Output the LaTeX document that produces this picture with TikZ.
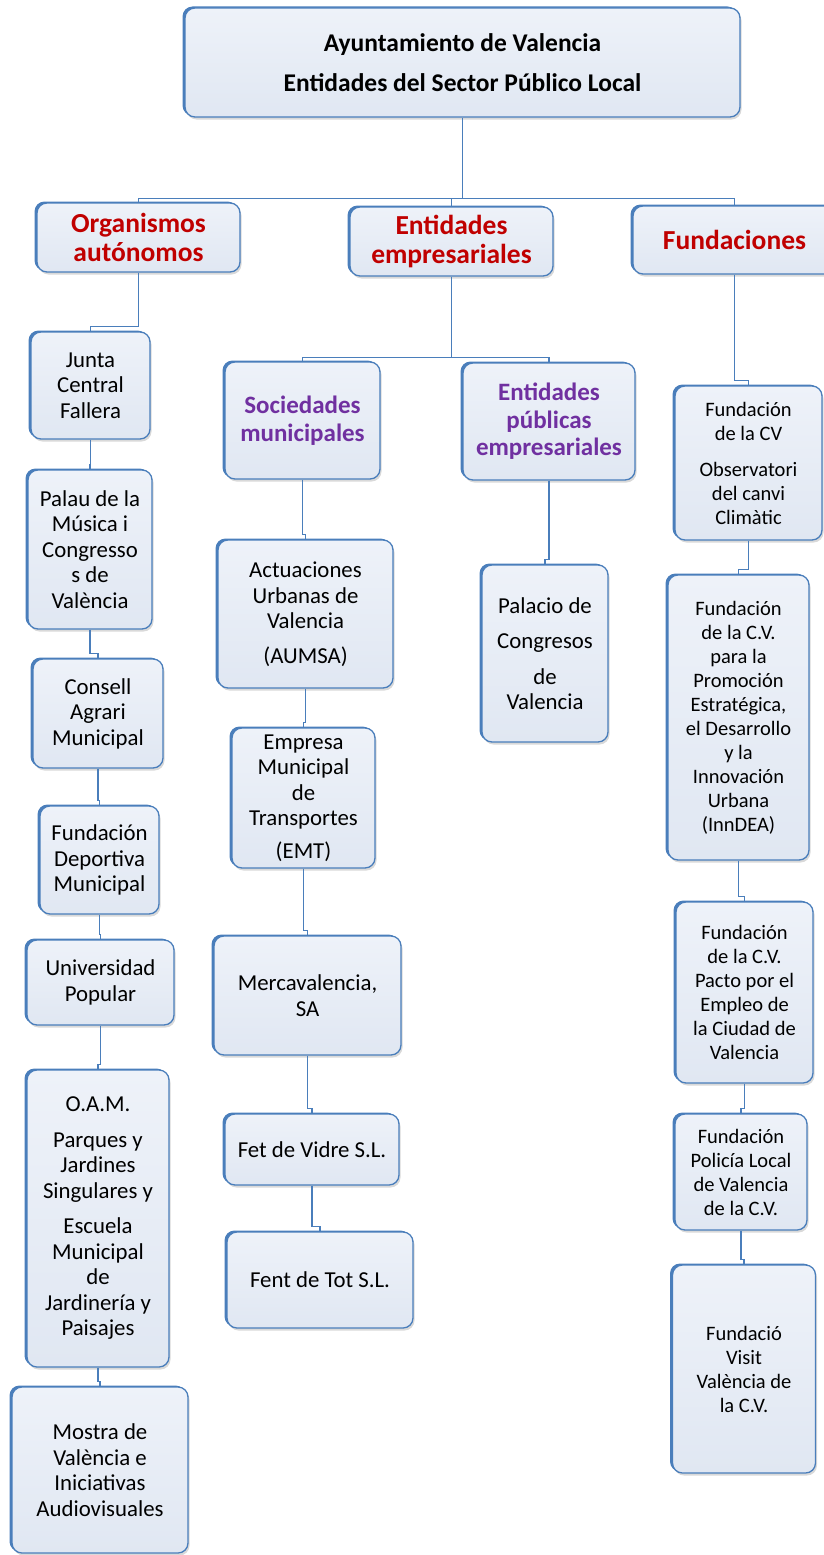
\documentclass[tikz,border=0pt]{standalone}
\usepackage{fontspec}
\setmainfont{Carlito}
\usepackage{tikz}
\usetikzlibrary{calc,shadows}
\definecolor{boxblue}{RGB}{74,126,187}
\definecolor{boxtop}{RGB}{238,242,249}
\definecolor{boxbot}{RGB}{224,231,242}
\definecolor{headred}{RGB}{192,0,0}
\definecolor{headpurple}{RGB}{112,48,160}
\def\bodyfont{\fontsize{22.8}{25.5}\selectfont}
\def\smallbody{\fontsize{20.5}{24}\selectfont}
\tikzset{
	orgbox/.style={draw=boxblue, line width=1.3pt, rounded corners=10pt, top color=boxtop, bottom color=boxbot, align=center, inner sep=0pt,
		drop shadow={shadow xshift=1.5pt, shadow yshift=-2.5pt, opacity=.3},
		general shadow={shadow xshift=-2.5pt, shadow yshift=1.5pt, fill=boxblue}},
	sz/.style 2 args={minimum width=#1pt, minimum height=#2pt},
	titlebox/.style={font=\bfseries\fontsize{25.5}{31}\selectfont},
	redhead/.style={font=\bfseries\fontsize{27.5}{29}\selectfont, text=headred},
	purphead/.style={font=\bfseries\fontsize{25}{27.5}\selectfont, text=headpurple},
	body/.style={font=\bodyfont},
	rbody/.style={font=\smallbody},
	conn/.style={draw=boxblue, line width=1.2pt},
	elbow/.style={to path={|- ([yshift=5pt]\tikztotarget) -- (\tikztotarget)}}
}

\begin{document}
\begin{tikzpicture}[x=1pt, y=-1pt]
			%%%%% START %%%%%
			\useasboundingbox (0,0) rectangle (823,1555);
			
			\node[orgbox, titlebox, sz={555}{109}] (top) at (462.5,62.5) {Ayuntamiento de Valencia\\[9pt]Entidades del Sector Público Local};
			
			\node[orgbox, redhead, sz={203}{69}] (orga) at (138.5,237.5) {Organismos\\autónomos};
			\node[orgbox, redhead, sz={203}{69}] (empr) at (451.5,241.5) {Entidades\\empresariales};
			\node[orgbox, redhead, sz={203}{68}] (fund) at (734.5,240) {Fundaciones};
			
			% organismos autonomos
			\node[orgbox, body, sz={119}{107}] (junta) at (90.5,385.5) {Junta\\Central\\Fallera};
			\node[orgbox, body, sz={124}{159}] (palau) at (90,549.5) {Palau de la\\Música i\\Congresso\\s de\\València};
			\node[orgbox, body, sz={130}{109}] (consell) at (98,713.5) {Consell\\Agrari\\Municipal};
			\node[orgbox, body, sz={119}{108}] (fdm) at (99.5,860) {Fundación\\Deportiva\\Municipal};
			\node[orgbox, body, sz={147}{85}] (univ) at (100.5,982.5) {Universidad\\Popular};
			\node[orgbox, body, sz={142}{297}] (oam) at (98,1218.5) {O.A.M.\\[10pt]Parques y\\Jardines\\Singulares y\\[10pt]Escuela\\Municipal\\de\\Jardinería y\\Paisajes};
			\node[orgbox, body, sz={176}{166}] (mostra) at (100,1470) {Mostra de\\València e\\Iniciativas\\Audiovisuales};
			
			% entidades empresariales
			\node[orgbox, purphead, sz={155}{117}] (soc) at (302.5,420.5) {Sociedades\\municipales};
			\node[orgbox, purphead, sz={172}{117}] (epe) at (549,421.5) {Entidades\\públicas\\empresariales};
			\node[orgbox, body, sz={175}{148}] (aumsa) at (305.5,614) {Actuaciones\\Urbanas de\\Valencia\\[9pt](AUMSA)};
			\node[orgbox, body, sz={143}{140}] (emt) at (303.5,798) {Empresa\\Municipal\\de\\Transportes\\[7pt](EMT)};
			\node[orgbox, body, sz={187}{119}] (merca) at (307.5,995.5) {Mercavalencia,\\SA};
			\node[orgbox, body, sz={174}{71}] (fet) at (312,1149.5) {Fet de Vidre S.L.};
			\node[orgbox, body, sz={186}{96}] (fent) at (320,1280) {Fent de Tot S.L.};
			\node[orgbox, body, sz={126}{177}] (palacio) at (545,653.5) {Palacio de\\[10pt]Congresos\\[10pt]de\\Valencia};
			
			% fundaciones
			\node[orgbox, rbody, sz={147}{154}] (cv1) at (748.5,463) {Fundación\\de la CV\\[12pt]Observatori\\del canvi\\Climàtic};
			\node[orgbox, rbody, sz={141}{285}] (inndea) at (738.5,717.5) {Fundación\\de la C.V.\\para la\\Promoción\\Estratégica,\\el Desarrollo\\y la\\Innovación\\Urbana\\(InnDEA)};
			\node[orgbox, rbody, sz={137}{181}] (pacto) at (744.5,992.5) {Fundación\\de la C.V.\\Pacto por el\\Empleo de\\la Ciudad de\\Valencia};
			\node[orgbox, rbody, sz={132}{116}] (policia) at (741,1172) {Fundación\\Policía Local\\de Valencia\\de la C.V.};
			\node[orgbox, rbody, sz={143}{208}] (visit) at (744,1369) {Fundació\\Visit\\València de\\la C.V.};
			
			% connectors
			\draw[conn] (top.south) -- ++(0,81) coordinate (tbar);
			\draw[conn] (orga.north) |- (tbar) -| (fund.north);
			\draw[conn] (empr.north) -- (empr.north |- tbar);
			
			\draw[conn] (orga.south) to[elbow] (junta.north);
			\draw[conn] (junta.south) to[elbow] (palau.north);
			\draw[conn] (palau.south) to[elbow] (consell.north);
			\draw[conn] (consell.south) to[elbow] (fdm.north);
			\draw[conn] (fdm.south) to[elbow] (univ.north);
			\draw[conn] (univ.south) to[elbow] (oam.north);
			\draw[conn] (oam.south) to[elbow] (mostra.north);
			
			\draw[conn] (empr.south) -- ++(0,81) coordinate (ebar);
			\draw[conn] (soc.north) |- (ebar) -| (epe.north);
			\draw[conn] (soc.south) to[elbow] (aumsa.north);
			\draw[conn] (aumsa.south) to[elbow] (emt.north);
			\draw[conn] (emt.south) to[elbow] (merca.north);
			\draw[conn] (merca.south) to[elbow] (fet.north);
			\draw[conn] (fet.south) to[elbow] (fent.north);
			\draw[conn] (epe.south) to[elbow] (palacio.north);
			
			\draw[conn] (fund.south) to[elbow] (cv1.north);
			\draw[conn] (cv1.south) to[elbow] (inndea.north);
			\draw[conn] (inndea.south) to[elbow] (pacto.north);
			\draw[conn] (pacto.south) to[elbow] (policia.north);
			\draw[conn] (policia.south) to[elbow] (visit.north);
			
			%%%%% END %%%%%
\end{tikzpicture}
\end{document}
